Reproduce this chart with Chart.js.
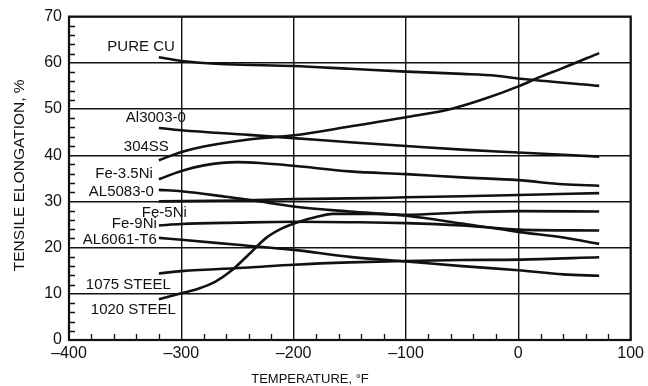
<!DOCTYPE html>
<html>
<head>
<meta charset="utf-8">
<script src="https://cdn.jsdelivr.net/npm/chart.js@4"></script>
<style>
    html, body { margin: 0; padding: 0; background: #fff; }
    #wrap { width: 648px; height: 386px; position: relative; }
</style>
</head>
<body>
<div id="wrap"><canvas id="elongationChart"></canvas></div>
<script>
// ================== DATA ==================
const xTicks = [-400, -300, -200, -100, 0, 100];
const yTicks = [0, 10, 20, 30, 40, 50, 60, 70];

const seriesNames = ['PURE CU', 'Al3003-0', '304SS', 'Fe-3.5Ni', 'AL5083-0',
                     'Fe-5Ni', 'Fe-9Ni', 'AL6061-T6', '1075 STEEL', '1020 STEEL'];

// [temperature °F, elongation %]
const pureCu    = [[-320, 61.2], [-300, 60.4], [-260, 59.7], [-200, 59.3], [-150, 58.7], [-100, 58.1], [-50, 57.6], [-20, 57.2], [0, 56.6], [72, 55.0]];
const al3003    = [[-320, 45.9], [-300, 45.4], [-240, 44.4], [-200, 43.7], [-150, 42.8], [-100, 42.0], [-50, 41.2], [0, 40.6], [72, 39.7]];
const ss304     = [[-320, 38.9], [-300, 40.7], [-280, 41.9], [-240, 43.4], [-200, 44.3], [-150, 46.2], [-100, 48.2], [-60, 50.0], [-30, 52.2], [0, 54.9], [20, 57.0], [40, 58.9], [72, 62.1]];
const fe35Ni    = [[-320, 34.8], [-300, 36.6], [-280, 37.8], [-250, 38.5], [-230, 38.3], [-200, 37.7], [-150, 36.5], [-100, 35.9], [-50, 35.2], [0, 34.6], [40, 33.7], [72, 33.4]];
const al5083    = [[-320, 32.5], [-300, 32.2], [-260, 31.0], [-230, 30.0], [-200, 28.9], [-150, 27.8], [-100, 26.9], [-50, 25.2], [0, 23.4], [40, 22.2], [72, 20.8]];
const fe5Ni     = [[-320, 30.0], [-250, 30.2], [-200, 30.5], [-133, 30.7], [-100, 30.9], [-50, 31.1], [0, 31.4], [72, 31.8]];
const fe9Ni     = [[-320, 24.8], [-300, 25.1], [-250, 25.4], [-200, 25.6], [-150, 25.5], [-100, 25.3], [-50, 24.8], [0, 23.9], [72, 23.7]];
const al6061    = [[-320, 22.1], [-300, 21.7], [-250, 20.6], [-200, 19.5], [-150, 18.0], [-100, 17.0], [-50, 16.0], [0, 15.1], [40, 14.2], [72, 13.9]];
const steel1075 = [[-320, 14.4], [-300, 14.9], [-240, 15.7], [-200, 16.3], [-150, 16.8], [-100, 17.1], [-50, 17.3], [0, 17.4], [72, 17.9]];
const steel1020 = [[-320, 8.8], [-300, 10.1], [-285, 11.1], [-270, 12.6], [-255, 15.1], [-240, 18.5], [-225, 22.0], [-210, 24.2], [-195, 25.6], [-180, 26.6], [-165, 27.3], [-130, 27.3], [-100, 27.1], [-50, 27.6], [0, 27.9], [72, 27.8]];

const seriesValues = [pureCu, al3003, ss304, fe35Ni, al5083, fe5Ni, fe9Ni, al6061, steel1075, steel1020];

// ================== STYLE ==================
const INK = '#111';
const FONT = '"Liberation Sans", Arial, Helvetica, sans-serif';

// label placement relative to the first point of each curve (right edge / middle of text)
const labelOffsets = [
    [16, -10], [27, -10], [10, -13], [-6, -5], [-5, 2],
    [28, 11], [-2, -2], [-2, 2], [12, 11], [17, 11]
];

// ================== PLUGINS ==================
const frameAndMinorTicks = {
    id: 'frameAndMinorTicks',
    afterDatasetsDraw(chart) {
        const { ctx, chartArea: a, scales: { x, y } } = chart;
        ctx.save();
        ctx.strokeStyle = INK;
        ctx.lineWidth = 1.3;
        ctx.beginPath();
        for (let v = -380; v < 100; v += 20) {
            if (v % 100 === 0) continue;
            const px = Math.round(x.getPixelForValue(v)) + 0.5;
            ctx.moveTo(px, a.bottom);
            ctx.lineTo(px, a.bottom - 6);
        }
        for (let v = 2; v < 70; v += 2) {
            if (v % 10 === 0) continue;
            const py = Math.round(y.getPixelForValue(v)) + 0.5;
            ctx.moveTo(a.left, py);
            ctx.lineTo(a.left + 6, py);
        }
        ctx.stroke();
        ctx.lineWidth = 2.2;
        ctx.strokeRect(a.left, a.top, a.right - a.left, a.bottom - a.top);
        ctx.restore();
    }
};

const curveLabels = {
    id: 'curveLabels',
    afterDatasetsDraw(chart) {
        const { ctx } = chart;
        ctx.save();
        ctx.fillStyle = INK;
        ctx.font = '15px ' + FONT;
        ctx.textAlign = 'right';
        ctx.textBaseline = 'middle';
        chart.data.datasets.forEach((ds, i) => {
            const first = chart.getDatasetMeta(i).data[0];
            const [dx, dy] = labelOffsets[i];
            ctx.fillText(ds.label, first.x + dx, first.y + dy);
        });
        ctx.restore();
    }
};

const axisTitles = {
    id: 'axisTitles',
    afterDraw(chart) {
        const { ctx, chartArea: a } = chart;
        ctx.save();
        ctx.fillStyle = INK;
        ctx.textAlign = 'center';
        ctx.textBaseline = 'middle';
        ctx.font = '13px ' + FONT;
        ctx.fillText('TEMPERATURE, °F', a.left + 241, 379);
        ctx.translate(20, (a.top + a.bottom) / 2 - 3);
        ctx.rotate(-Math.PI / 2);
        ctx.font = '15.5px ' + FONT;
        ctx.fillText('TENSILE ELONGATION, %', 0, 0);
        ctx.restore();
    }
};

// ================== CHART ==================
const datasets = seriesValues.map((pts, i) => ({
    label: seriesNames[i],
    data: pts.map(([x, y]) => ({ x, y })),
    borderColor: INK,
    borderWidth: 2.6,
    pointRadius: 0,
    fill: false,
    cubicInterpolationMode: 'monotone'
}));

const tickFont = { family: FONT, size: 16 };

new Chart(document.getElementById('elongationChart'), {
    type: 'line',
    data: { datasets },
    options: {
        responsive: true,
        maintainAspectRatio: false,
        animation: false,
        layout: { padding: { top: 15, right: 16, left: 0, bottom: 0 } },
        plugins: { legend: { display: false }, tooltip: { enabled: false } },
        scales: {
            x: {
                type: 'linear',
                min: -400,
                max: 100,
                afterBuildTicks: (scale) => { scale.ticks = xTicks.map(v => ({ value: v })); },
                afterFit: (scale) => { scale.height = 46; },
                ticks: {
                    color: INK,
                    font: tickFont,
                    padding: 4,
                    maxRotation: 0,
                    callback: (v) => (v < 0 ? '–' + Math.abs(v) : String(v))
                },
                grid: { color: INK, lineWidth: 1.4, drawTicks: false },
                border: { display: false }
            },
            y: {
                type: 'linear',
                min: 0,
                max: 70,
                afterBuildTicks: (scale) => { scale.ticks = yTicks.map(v => ({ value: v })); },
                afterFit: (scale) => { scale.width = 69; },
                ticks: { color: INK, font: tickFont, padding: 7 },
                grid: { color: INK, lineWidth: 1.4, drawTicks: false },
                border: { display: false }
            }
        }
    },
    plugins: [frameAndMinorTicks, curveLabels, axisTitles]
});
</script>
</body>
</html>
